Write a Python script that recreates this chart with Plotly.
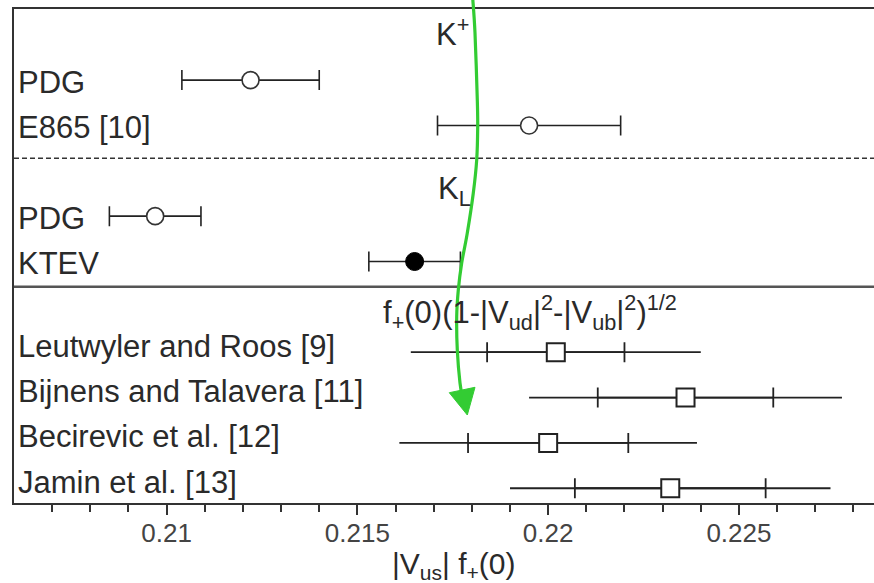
import plotly.graph_objects as go

# ---------------- data ----------------
exp_labels = ["PDG", "E865 [10]", "PDG", "KTEV"]
exp_values = [0.2122, 0.2195, 0.2097, 0.2165]
exp_errors = [0.0018, 0.0024, 0.0012, 0.0012]
exp_filled = [False, False, False, True]

theory_labels = ["Leutwyler and Roos [9]", "Bijnens and Talavera [11]",
                 "Becirevic et al. [12]", "Jamin et al. [13]"]
theory_values = [0.2202, 0.2236, 0.2200, 0.2232]
theory_inner = [0.0018, 0.0023, 0.0021, 0.0025]
theory_outer = [0.0038, 0.0041, 0.0039, 0.0042]

group_titles = ["K<sup>+</sup>", "K<sub>L</sub>",
                "f<sub>+</sub>(0)(1-|V<sub>ud</sub>|<sup>2</sup>-|V<sub>ub</sub>|<sup>2</sup>)<sup>1/2</sup>"]
group_sizes = [2, 2, 4]

x_tick_vals = [0.21, 0.215, 0.22, 0.225]
x_tick_text = ["0.21", "0.215", "0.22", "0.225"]
x_title = "|V<sub>us</sub>| f<sub>+</sub>(0)"

# ---------------- layout helpers ----------------
W, H = 874, 583
ML, MR, MT, MB = 14, 0, 9, 80
PW, PH = W - ML - MR, H - MT - MB

# row positions: groups separated by one header row
rows = []
headers = []
pos = 0
for n in group_sizes:
    headers.append(pos - 1)
    for i in range(n):
        rows.append(pos)
        pos += 1
    pos += 1
exp_rows = rows[:4]
th_rows = rows[4:]

FONT = "Liberation Sans, Arial, Helvetica, sans-serif"
INK = "#222222"

fig = go.Figure()

# experimental: open circles
open_idx = [i for i in range(len(exp_values)) if not exp_filled[i]]
fill_idx = [i for i in range(len(exp_values)) if exp_filled[i]]
fig.add_trace(go.Scatter(
    x=[exp_values[i] for i in open_idx], y=[exp_rows[i] for i in open_idx],
    mode="markers",
    marker=dict(symbol="circle", size=17, color="white", line=dict(color="#333333", width=1.6)),
    error_x=dict(type="data", array=[exp_errors[i] for i in open_idx], color=INK,
                 thickness=1.6, width=10),
    showlegend=False, hoverinfo="skip"))
fig.add_trace(go.Scatter(
    x=[exp_values[i] for i in fill_idx], y=[exp_rows[i] for i in fill_idx],
    mode="markers",
    marker=dict(symbol="circle", size=18, color="black", line=dict(color="black", width=1)),
    error_x=dict(type="data", array=[exp_errors[i] for i in fill_idx], color=INK,
                 thickness=1.6, width=10),
    showlegend=False, hoverinfo="skip"))

# theory: outer (no caps) + inner (ticks) + square
fig.add_trace(go.Scatter(
    x=theory_values, y=th_rows, mode="markers",
    marker=dict(size=1, color="rgba(0,0,0,0)"),
    error_x=dict(type="data", array=theory_outer, color=INK, thickness=1.8, width=0),
    showlegend=False, hoverinfo="skip"))
fig.add_trace(go.Scatter(
    x=theory_values, y=th_rows, mode="markers",
    marker=dict(symbol="square", size=18, color="white", line=dict(color="#222222", width=2)),
    error_x=dict(type="data", array=theory_inner, color=INK, thickness=1.8, width=10),
    showlegend=False, hoverinfo="skip"))

# separators
fig.add_shape(type="line", xref="paper", x0=0, x1=1, yref="y", y0=1.725, y1=1.725,
              line=dict(color="#333333", width=1.5, dash="5px,3px"))
fig.add_shape(type="line", xref="paper", x0=0, x1=1, yref="y", y0=4.556, y1=4.556,
              line=dict(color="#555555", width=2.5))

# row labels
annotations = []
for i, lab in enumerate(exp_labels):
    annotations.append(dict(text=lab, xref="paper", x=0, xanchor="left", xshift=2,
                            yref="y", y=exp_rows[i], yanchor="middle", yshift=-2,
                            showarrow=False, font=dict(family=FONT, size=31, color="#2a2a2a")))
for i, lab in enumerate(theory_labels):
    annotations.append(dict(text=lab, xref="paper", x=0, xanchor="left", xshift=2,
                            yref="y", y=th_rows[i], yanchor="middle", yshift=6,
                            showarrow=False, font=dict(family=FONT, size=31, color="#2a2a2a")))

# group titles
title_x = [0.21700, 0.21705, 0.21562]
title_y = [-1.06, 2.45, 5.12]
for t, xx, yy in zip(group_titles, title_x, title_y):
    annotations.append(dict(text=t, xref="x", x=xx, xanchor="left", yref="y", y=yy,
                            yanchor="middle", showarrow=False,
                            font=dict(family=FONT, size=31, color="#2a2a2a")))

# x-axis title
annotations.append(dict(text=x_title, xref="paper", x=(453 - ML) / PW, xanchor="center",
                        yref="paper", y=-(565 - (MT + PH)) / PH, yanchor="middle",
                        showarrow=False, font=dict(family=FONT, size=30, color="#2a2a2a")))

# green hand-drawn arrow overlay (pixel positions -> paper)
def P(px, py):
    return ((px - ML) / PW, (MT + PH - py) / PH)

pts = [(472.7, -2), (475, 33), (477.3, 100), (477.7, 127), (476.7, 160), (473.3, 193),
       (467.3, 233), (461.7, 263), (458.3, 290), (456.7, 317), (457.3, 350), (460, 383),
       (463, 400)]
pp = [P(*p) for p in pts]
path = "M %f,%f" % pp[0]
for i in range(len(pp) - 1):
    p0 = pp[i - 1] if i > 0 else pp[i]
    p1, p2 = pp[i], pp[i + 1]
    p3 = pp[i + 2] if i + 2 < len(pp) else pp[i + 1]
    c1 = (p1[0] + (p2[0] - p0[0]) / 6, p1[1] + (p2[1] - p0[1]) / 6)
    c2 = (p2[0] - (p3[0] - p1[0]) / 6, p2[1] - (p3[1] - p1[1]) / 6)
    path += " C %f,%f %f,%f %f,%f" % (c1[0], c1[1], c2[0], c2[1], p2[0], p2[1])
GREEN = "#33cc33"
fig.add_shape(type="path", xref="paper", yref="paper", path=path,
              line=dict(color=GREEN, width=3.2), layer="above")
a, b, c = P(449.3, 392.7), P(475, 387.3), P(467.3, 415)
fig.add_shape(type="path", xref="paper", yref="paper",
              path="M %f,%f L %f,%f L %f,%f Z" % (a[0], a[1], b[0], b[1], c[0], c[1]),
              fillcolor=GREEN, line=dict(color=GREEN, width=1), layer="above")

minor_vals = [round(0.207 + 0.001 * k, 3) for k in range(22)]

fig.update_layout(
    width=W, height=H,
    margin=dict(l=ML, r=MR, t=MT, b=MB, pad=0),
    paper_bgcolor="white", plot_bgcolor="white",
    annotations=annotations,
    xaxis=dict(range=[0.206, 0.22854], tickmode="array", tickvals=x_tick_vals,
               ticktext=x_tick_text, ticks="outside", ticklen=10, tickwidth=1.5,
               tickcolor="#333333", ticklabelstandoff=-4,
               minor=dict(tickmode="array", tickvals=minor_vals, ticks="outside",
                          ticklen=7, tickwidth=1.5, tickcolor="#333333", showgrid=False),
               showline=True, linecolor="#333333", linewidth=2, mirror=True,
               showgrid=False, zeroline=False,
               tickfont=dict(family=FONT, size=26, color="#444444")),
    yaxis=dict(range=[9.325, -1.568], showticklabels=False, ticks="", showgrid=False,
               zeroline=False, showline=True, linecolor="#333333", linewidth=2, mirror=False),
)

fig.write_html("out.html")
